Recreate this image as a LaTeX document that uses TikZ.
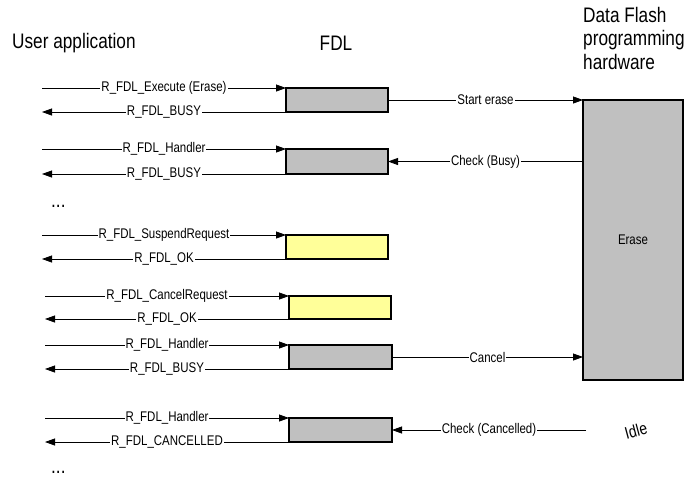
\documentclass[tikz,border=0pt]{standalone}
\usepackage{fontspec}
\setmainfont[FakeStretch=0.82]{Liberation Sans}
\usetikzlibrary{arrows.meta}
\definecolor{boxgray}{HTML}{C0C0C0}
\definecolor{boxyellow}{HTML}{FFFF99}
\begin{document}
\begin{tikzpicture}[x=1pt,y=-1pt,
  fdlbox/.style={draw, line width=1.1pt, fill=boxgray, anchor=north west, inner sep=0pt, outer sep=0pt},
  ybox/.style={fdlbox, fill=boxyellow},
  msg/.style={line width=0.8pt, -{Triangle[length=10pt,width=7pt]}},
  lbl/.style={fill=white, inner sep=1pt, font=\fontsize{14}{15}\selectfont},
  head/.style={font=\fontsize{21}{23.5}\selectfont, inner sep=0pt},
  dots/.style={font=\fontsize{21}{23}\selectfont, inner sep=0pt, anchor=base west}]
\useasboundingbox (0,0) rectangle (685,477);

% headers
\node[head, anchor=west] (hu) at (12,43) {User application};
\node[head] (hf) at (336,43) {FDL};
\node[head, anchor=north west, align=left] (hd) at (583,7) {Data Flash\\programming\\hardware};

% FDL boxes
\node[fdlbox, minimum width=102pt, minimum height=24pt] (b1) at (286,88) {};
\node[fdlbox, minimum width=102pt, minimum height=25pt] (b2) at (286,149) {};
\node[ybox, minimum width=102pt, minimum height=24pt] (b3) at (286,235) {};
\node[ybox, minimum width=102pt, minimum height=23pt] (b4) at (289,296) {};
\node[fdlbox, minimum width=103pt, minimum height=24pt] (b5) at (289,345) {};
\node[fdlbox, minimum width=103pt, minimum height=24pt] (b6) at (289,418) {};

% hardware box
\node[fdlbox, minimum width=100pt, minimum height=280pt, font=\fontsize{14}{15}\selectfont] (hw) at (583,100) {Erase};

% left ends
\coordinate (u1a) at (42,88);  \coordinate (u1b) at (42,112);
\coordinate (u2a) at (42,149); \coordinate (u2b) at (42,174);
\coordinate (u3a) at (42,235); \coordinate (u3b) at (42,259);
\coordinate (u4a) at (45,296); \coordinate (u4b) at (45,319);
\coordinate (u5a) at (45,345); \coordinate (u5b) at (45,369);
\coordinate (u6a) at (45,418); \coordinate (u6b) at (45,442);

\draw[msg] (u1a) -- (b1.north west) node[lbl, midway] {R\_FDL\_Execute (Erase)};
\draw[msg] (b1.south west) -- (u1b) node[lbl, midway] {R\_FDL\_BUSY};
\draw[msg] (u2a) -- (b2.north west) node[lbl, midway] {R\_FDL\_Handler};
\draw[msg] (b2.south west) -- (u2b) node[lbl, midway] {R\_FDL\_BUSY};
\draw[msg] (u3a) -- (b3.north west) node[lbl, midway] {R\_FDL\_SuspendRequest};
\draw[msg] (b3.south west) -- (u3b) node[lbl, midway] {R\_FDL\_OK};
\draw[msg] (u4a) -- (b4.north west) node[lbl, midway] {R\_FDL\_CancelRequest};
\draw[msg] (b4.south west) -- (u4b) node[lbl, midway] {R\_FDL\_OK};
\draw[msg] (u5a) -- (b5.north west) node[lbl, midway] {R\_FDL\_Handler};
\draw[msg] (b5.south west) -- (u5b) node[lbl, midway] {R\_FDL\_BUSY};
\draw[msg] (u6a) -- (b6.north west) node[lbl, midway] {R\_FDL\_Handler};
\draw[msg] (b6.south west) -- (u6b) node[lbl, midway] {R\_FDL\_CANCELLED};

% hardware side
\draw[msg] (b1.east) -- (hw.north west) node[lbl, midway] {Start erase};
\draw[msg] (hw.west |- b2.east) -- (b2.east) node[lbl, midway] {Check (Busy)};
\draw[msg] (b5.east) -- (hw.west |- b5.east) node[lbl, midway] {Cancel};
\coordinate (idl) at (586,430);
\draw[msg] (idl) -- (b6.east) node[lbl, midway] {Check (Cancelled)};
\node[font=\fontsize{17}{18}\selectfont, rotate=15, inner sep=0pt] (idle) at (636,431) {Idle};

% ellipses
\node[dots] (d1) at (51,207) {...};
\node[dots] (d2) at (51,473) {...};
\end{tikzpicture}
\end{document}
